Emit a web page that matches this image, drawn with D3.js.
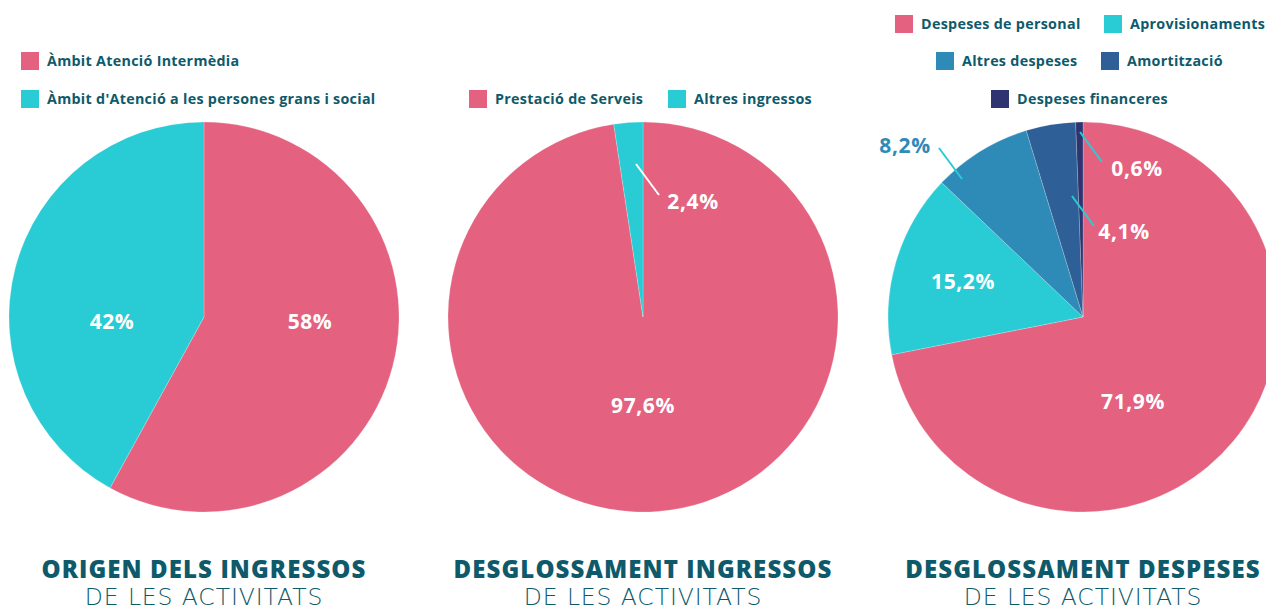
<!DOCTYPE html>
<html><head><meta charset="utf-8">
<script src="https://cdn.jsdelivr.net/npm/d3@7"></script>
<style>
html,body{margin:0;padding:0;background:#fff;}
svg{display:block;}
</style></head>
<body>
<svg id="c" width="1266" height="607"></svg>
<script>
// ---- data ----
const pie1Categories = ["Àmbit Atenció Intermèdia", "Àmbit d'Atenció a les persones grans i social"];
const pie1Values = [58, 42];
const pie2Categories = ["Prestació de Serveis", "Altres ingressos"];
const pie2Values = [97.6, 2.4];
const pie3Categories = ["Despeses de personal", "Aprovisionaments", "Altres despeses", "Amortització", "Despeses financeres"];
const pie3Values = [71.9, 15.2, 8.2, 4.1, 0.6];
const titlesBold = ["ORIGEN DELS INGRESSOS", "DESGLOSSAMENT INGRESSOS", "DESGLOSSAMENT DESPESES"];
const titlesLight = ["DE LES ACTIVITATS", "DE LES ACTIVITATS", "DE LES ACTIVITATS"];

// ---- styling / layout ----
const PINK = "#e4627f", CYAN = "#29ccd5", BLUE = "#2e8bb8", DBLUE = "#2e5f97", NAVY = "#2d3470";
const TEXT = "#0e5a6b";
const FONT = "'Open Sans', Lato, sans-serif";
const R = 195;
const svg = d3.select("#c");

const charts = [
  {
    cx: 204, cy: 317, cats: pie1Categories, vals: pie1Values, colors: [PINK, CYAN],
    labels: [{dx:106, dy:4}, {dx:-92, dy:4}],
    legend: [[{x:21, y:61, i:0}], [{x:21, y:99, i:1}]]
  },
  {
    cx: 643, cy: 317, cats: pie2Categories, vals: pie2Values, colors: [PINK, CYAN],
    labels: [{dx:0, dy:88}, {dx:50, dy:-116, line:[-7,-153,16,-122], lineColor:"#fff"}],
    legend: [[{x:469, y:99, i:0}, {x:668, y:99, i:1}]]
  },
  {
    cx: 1083, cy: 317, cats: pie3Categories, vals: pie3Values, colors: [PINK, CYAN, BLUE, DBLUE, NAVY],
    labels: [
      {dx:50, dy:84},
      {dx:-120, dy:-36},
      {dx:-178, dy:-172, color: BLUE, line:[-144,-169,-121,-138], lineColor: CYAN},
      {dx:41, dy:-86, line:[-11,-121,11,-91], lineColor: CYAN},
      {dx:54, dy:-149, line:[-3,-185,19,-155], lineColor: CYAN}
    ],
    legend: [[{x:895, y:24, i:0}, {x:1104, y:24, i:1}], [{x:936, y:61, i:2}, {x:1101, y:61, i:3}], [{x:991, y:99, i:4}]]
  }
];

const pie = d3.pie().sort(null).value(d => d);
const arc = d3.arc().innerRadius(0).outerRadius(R);
const fmt = v => String(v).replace(".", ",") + "%";

charts.forEach((c, ci) => {
  const g = svg.append("g").attr("transform", `translate(${c.cx},${c.cy})`);
  const arcs = pie(c.vals);
  g.selectAll("path.slice").data(arcs).join("path")
    .attr("class", "slice")
    .attr("d", arc)
    .attr("fill", (d, i) => c.colors[i])
    .attr("stroke", "rgba(255,255,255,0.35)")
    .attr("stroke-width", 0.6);

  g.selectAll("line.lead").data(c.labels.filter(l => l.line)).join("line")
    .attr("class", "lead")
    .attr("x1", l => l.line[0]).attr("y1", l => l.line[1])
    .attr("x2", l => l.line[2]).attr("y2", l => l.line[3])
    .attr("stroke", l => l.lineColor).attr("stroke-width", 2);

  g.selectAll("text.val").data(arcs).join("text")
    .attr("class", "val")
    .attr("x", (d, i) => c.labels[i].dx)
    .attr("y", (d, i) => c.labels[i].dy)
    .attr("dy", "0.36em")
    .attr("text-anchor", "middle")
    .attr("font-family", FONT)
    .attr("font-weight", 700)
    .attr("font-size", 21)
    .attr("letter-spacing", 0.6)
    .attr("fill", (d, i) => c.labels[i].color || "#fff")
    .text(d => fmt(d.data));

  c.legend.forEach(row => {
    row.forEach(item => {
      const lg = svg.append("g").attr("transform", `translate(${item.x},${item.y})`);
      lg.append("rect").attr("x", 0).attr("y", -9).attr("width", 18).attr("height", 18)
        .attr("fill", c.colors[item.i]);
      lg.append("text").attr("x", 26).attr("y", 0).attr("dy", "0.35em")
        .attr("font-family", FONT)
        .attr("font-weight", 700).attr("font-size", 14.3)
        .attr("letter-spacing", 0.3)
        .attr("fill", TEXT).text(c.cats[item.i]);
    });
  });

  svg.append("text").attr("x", c.cx).attr("y", 578).attr("text-anchor", "middle")
    .attr("font-family", FONT).attr("font-weight", 800).attr("font-size", 24)
    .attr("letter-spacing", 1.1)
    .attr("fill", TEXT).text(titlesBold[ci]);
  svg.append("text").attr("x", c.cx).attr("y", 605).attr("text-anchor", "middle")
    .attr("font-family", "'DejaVu Sans', sans-serif").attr("font-weight", 200).attr("font-size", 23.5)
    .attr("letter-spacing", 0.9)
    .attr("fill", TEXT).text(titlesLight[ci]);
});
</script>
</body></html>
